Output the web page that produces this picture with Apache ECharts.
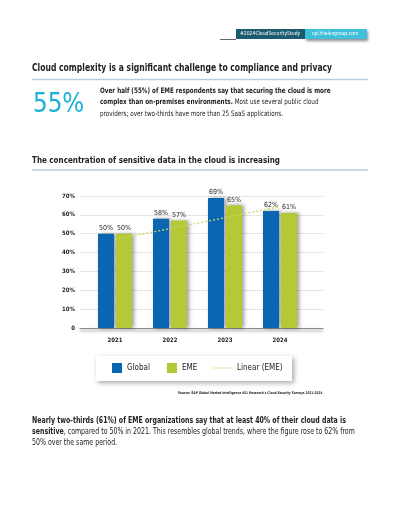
<!DOCTYPE html>
<html>
<head>
<meta charset="utf-8">
<script src="https://cdn.jsdelivr.net/npm/echarts@6/dist/echarts.min.js"></script>
<style>
html,body{margin:0;padding:0;background:#fff;}
#chart{width:400px;height:518px;}
</style>
</head>
<body>
<div id="chart"></div>
<script>
// ---- data ----
var years = ['2021', '2022', '2023', '2024'];
var globalValues = [50, 58, 69, 62];
var emeValues = [50, 57, 65, 61];
var linearEme = [47, 52.7, 58.5, 64.4];   // dotted trend line
var yTicks = [0, 10, 20, 30, 40, 50, 60, 70];

var FF = '"Liberation Sans Narrow","DejaVu Sans Condensed","Roboto",sans-serif';
var BLUE = '#0a66b0', GREEN = '#b4c935', TREND = '#c5d766', TXT = '#222';

// dotted-line legend icon (19 x 10 box)
var DOT_ICON = 'path://M0,0 M0,4.4h1.6v1.2h-1.6z M2.9,4.4h1.6v1.2h-1.6z M5.8,4.4h1.6v1.2h-1.6z M8.7,4.4h1.6v1.2h-1.6z M11.6,4.4h1.6v1.2h-1.6z M14.5,4.4h1.6v1.2h-1.6z M17.4,4.4h1.6v1.2h-1.6z M19,10';

var chart = echarts.init(document.getElementById('chart'), null, {renderer: 'canvas'});

function richStyles(size) {
  return {
    b: {fontFamily: FF, fontSize: size, fontWeight: 'bold', fill: TXT},
    n: {fontFamily: FF, fontSize: size, fill: TXT}
  };
}
function rtext(x, y, str, size, sx) {
  return {type: 'text', x: x, y: y, scaleX: sx, style: {text: str, fontFamily: FF, fontSize: size, fill: TXT,
    textVerticalAlign: 'middle', rich: richStyles(size)}};
}
function ptext(x, y, str, size, sx, extra) {
  var st = {text: str, fontFamily: FF, fontSize: size, fill: TXT, textVerticalAlign: 'middle'};
  for (var k in extra) st[k] = extra[k];
  return {type: 'text', x: x, y: y, scaleX: sx, style: st};
}

var option = {
  backgroundColor: '#fff',
  animation: false,
  textStyle: {fontFamily: FF},
  grid: [
    {left: 80, right: 77, top: 196, bottom: 190},
    {left: 87.5, right: 92.5, top: 196, bottom: 190}
  ],
  xAxis: [
    {gridIndex: 0, type: 'category', data: years, axisLabel: {show: false}, axisTick: {show: false},
      axisLine: {lineStyle: {color: '#8a8a8a', width: 1, shadowBlur: 3, shadowColor: 'rgba(0,0,0,0.5)', shadowOffsetY: 2}}},
    {gridIndex: 1, type: 'category', data: years, axisTick: {show: false}, axisLine: {show: false},
      axisLabel: {fontSize: 6, fontWeight: 'bold', color: TXT, margin: 9, fontFamily: FF}}
  ],
  yAxis: [
    {gridIndex: 0, type: 'value', min: 0, max: 70, interval: 10,
      axisLabel: {fontSize: 6, fontWeight: 'bold', color: TXT, margin: 5, fontFamily: FF,
        formatter: function (v) { return v === 0 ? '0' : v + '%'; }},
      splitLine: {lineStyle: {color: '#e4e4e4', width: 1}}},
    {gridIndex: 1, type: 'value', min: 0, max: 70, interval: 10, show: false, splitLine: {show: false}}
  ],
  legend: [
    {data: [{name: 'Global', icon: 'rect'}, {name: 'EME', icon: 'rect'}], left: 112, top: 363, padding: 0,
      itemWidth: 10, itemHeight: 10, itemGap: 17, selectedMode: false,
      textStyle: {fontSize: 8, color: TXT, fontFamily: FF}},
    {data: [{name: 'Linear (EME)', icon: DOT_ICON, itemStyle: {color: TREND}}], left: 213, top: 363, padding: 0,
      itemWidth: 19, itemHeight: 10, selectedMode: false,
      textStyle: {fontSize: 8, color: TXT, fontFamily: FF}}
  ],
  series: [
    {name: 'Global', type: 'bar', xAxisIndex: 1, yAxisIndex: 1, data: globalValues, barWidth: 16, barGap: '12.5%',
      itemStyle: {color: BLUE, shadowBlur: 4, shadowOffsetX: 2, shadowColor: 'rgba(0,0,0,0.4)'},
      label: {show: true, position: 'top', distance: 2, fontSize: 7, color: TXT, fontFamily: FF, formatter: '{c}%'}},
    {name: 'EME', type: 'bar', xAxisIndex: 1, yAxisIndex: 1, data: emeValues, barWidth: 16,
      itemStyle: {color: GREEN, shadowBlur: 4, shadowOffsetX: 2, shadowColor: 'rgba(0,0,0,0.4)'},
      label: {show: true, position: 'top', distance: 2, fontSize: 7, color: TXT, fontFamily: FF, formatter: '{c}%'}},
    {name: 'Linear (EME)', type: 'line', xAxisIndex: 1, yAxisIndex: 1, data: linearEme, symbol: 'none', z: 5,
      itemStyle: {color: TREND},
      lineStyle: {color: TREND, width: 1.3, type: [2, 2]}}
  ],
  graphic: [
    // header
    {type: 'line', shape: {x1: 220, y1: 39.5, x2: 236, y2: 39.5}, style: {stroke: '#666', lineWidth: 1}},
    {type: 'rect', shape: {x: 236, y: 29, width: 69, height: 10}, style: {fill: '#1b5c70'}},
    {type: 'rect', shape: {x: 305, y: 29, width: 62, height: 10},
      style: {fill: '#3fc0d8', shadowBlur: 3, shadowOffsetY: 2, shadowOffsetX: 1, shadowColor: 'rgba(0,0,0,0.45)'}},
    ptext(240, 34, '#2024CloudSecurityStudy', 5.5, 0.92, {fill: '#fff'}),
    ptext(312, 34, 'cpl.thalesgroup.com', 5.5, 0.92, {fill: '#fff'}),
    // title 1
    ptext(32, 68, 'Cloud complexity is a significant challenge to compliance and privacy', 10, 0.85, {fontWeight: 'bold'}),
    {type: 'line', shape: {x1: 32, y1: 79.5, x2: 368, y2: 79.5}, style: {stroke: '#b3cde3', lineWidth: 1.5}},
    ptext(33, 105, '55%', 27, 0.95, {fill: '#1ab0d8'}),
    rtext(100, 91, '{b|Over half (55%) of EME respondents say that securing the cloud is more}', 7.5, 0.84),
    rtext(100, 102.5, '{b|complex than on-premises environments.}{n| Most use several public cloud}', 7.5, 0.84),
    rtext(100, 114, '{n|providers; over two-thirds have more than 25 SaaS applications.}', 7.5, 0.84),
    // title 2
    ptext(32, 160.5, 'The concentration of sensitive data in the cloud is increasing', 9, 0.886, {fontWeight: 'bold'}),
    {type: 'line', shape: {x1: 32, y1: 170, x2: 368, y2: 170}, style: {stroke: '#b3cde3', lineWidth: 1.5}},
    // legend box
    {type: 'rect', z: -1, shape: {x: 96, y: 356, width: 196, height: 25},
      style: {fill: '#fff', shadowBlur: 5, shadowOffsetX: 2, shadowOffsetY: 2, shadowColor: 'rgba(0,0,0,0.35)'}},
    // source
    ptext(178, 393, "Source: S&P Global Market Intelligence 451 Research's Cloud Security Surveys 2021-2024", 3.6, 0.88, {fontWeight: 'bold'}),
    // bottom paragraph
    rtext(32, 420.5, '{b|Nearly two-thirds (61%) of EME organizations say that at least 40% of their cloud data is}', 8, 0.87),
    rtext(32, 431.5, '{b|sensitive}{n|, compared to 50% in 2021. This resembles global trends, where the figure rose to 62% from}', 8, 0.87),
    rtext(32, 442.5, '{n|50% over the same period.}', 8, 0.87)
  ]
};
chart.setOption(option);
</script>
</body>
</html>
